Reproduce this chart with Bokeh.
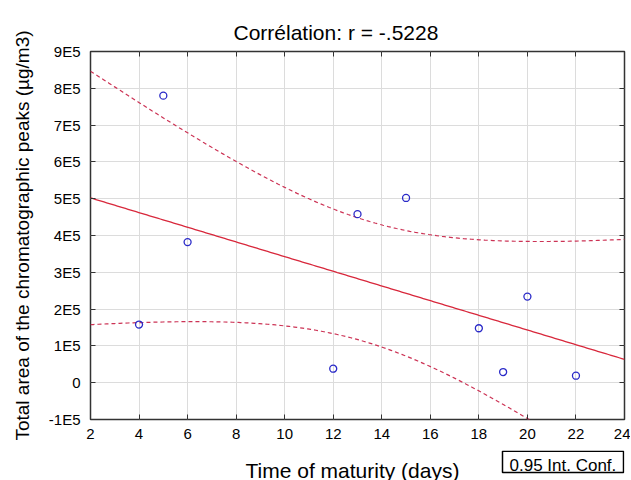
import numpy as np
from bokeh.plotting import figure
from bokeh.layouts import column
from bokeh.models import LinearAxis, FixedTicker, Range1d
from bokeh.core.properties import value
from bokeh.embed import file_html
from bokeh.resources import INLINE

# ---- data ----
days = [4, 5, 6, 12, 13, 15, 18, 19, 20, 22]
area = [1.58e5, 7.80e5, 3.82e5, 0.38e5, 4.58e5, 5.02e5, 1.48e5, 0.29e5, 2.34e5, 0.19e5]

x_ticks = [2, 4, 6, 8, 10, 12, 14, 16, 18, 20, 22, 24]
y_ticks = [-100000, 0, 100000, 200000, 300000, 400000, 500000, 600000, 700000, 800000, 900000]
y_tick_labels = ["-1E5", "0", "1E5", "2E5", "3E5", "4E5", "5E5", "6E5", "7E5", "8E5", "9E5"]

title_text = "Corrélation: r = -.5228"
x_label = "Time of maturity (days)"
y_label = "Total area of the chromatographic peaks (µg/m3)"
legend_text = "0.95 Int. Conf."
T_CRIT = 2.306  # t(0.975, df=8)

# ---- regression and 95% confidence band ----
x = np.array(days, dtype=float)
y = np.array(area, dtype=float)
n = len(x)
xm, ym = x.mean(), y.mean()
sxx = ((x - xm) ** 2).sum()
slope = ((x - xm) * (y - ym)).sum() / sxx
icpt = ym - slope * xm
resid = y - (icpt + slope * x)
s = np.sqrt((resid ** 2).sum() / (n - 2))
xg = np.linspace(x_ticks[0], x_ticks[-1], 200)
yg = icpt + slope * xg
half = T_CRIT * s * np.sqrt(1.0 / n + (xg - xm) ** 2 / sxx)

FONT = "Liberation Sans"

p = figure(
    output_backend="svg", toolbar_location=None,
    frame_width=534, frame_height=368,
    min_border_left=90, min_border_right=6, min_border_top=51, min_border_bottom=31,
    x_range=Range1d(2, 24), y_range=Range1d(-100000, 900000),
    outline_line_color="#333333", outline_line_width=1.5,
)
p.background_fill_color = "white"
p.border_fill_color = "white"

p.title.text = title_text
p.title.text_font = FONT
p.title.text_font_size = "21px"
p.title.text_font_style = "normal"
p.title.text_color = "black"
p.title.align = "left"
p.title.offset = 143
p.title.standoff = 15

# axes
for ax in (p.xaxis[0], p.yaxis[0]):
    ax.axis_line_color = None
    ax.major_tick_in = 5
    ax.major_tick_out = 0
    ax.minor_tick_line_color = None
    ax.major_tick_line_color = "#333333"
    ax.major_label_text_font = FONT
    ax.major_label_text_font_size = "15px"
    ax.major_label_text_color = "black"
    ax.axis_label_text_font = FONT
    ax.axis_label_text_font_style = "normal"
    ax.axis_label_text_font_size = "19px"
    ax.axis_label_text_color = "black"

p.xaxis.ticker = FixedTicker(ticks=x_ticks)
p.yaxis.ticker = FixedTicker(ticks=y_ticks)
p.yaxis.major_label_overrides = {t: l for t, l in zip(y_ticks, y_tick_labels)}
p.xaxis.major_label_standoff = 9
p.yaxis.major_label_standoff = 10
p.yaxis.axis_label = y_label
p.yaxis.axis_label_standoff = 13

# top and right axes with inward ticks, no labels
top = LinearAxis(ticker=FixedTicker(ticks=x_ticks),
                 major_label_overrides={t: "" for t in x_ticks},
                 major_label_standoff=0,
                 axis_line_color=None, major_tick_in=5, major_tick_out=0,
                 minor_tick_line_color=None, major_tick_line_color="#333333")
right = LinearAxis(ticker=FixedTicker(ticks=y_ticks),
                   major_label_overrides={t: "" for t in y_ticks},
                   major_label_standoff=0,
                   axis_line_color=None, major_tick_in=5, major_tick_out=0,
                   minor_tick_line_color=None, major_tick_line_color="#333333")
p.add_layout(top, "above")
p.add_layout(right, "right")

p.xgrid.ticker = FixedTicker(ticks=x_ticks)
p.ygrid.ticker = FixedTicker(ticks=y_ticks)
p.grid.grid_line_color = "#dcdcdc"
p.grid.grid_line_width = 1

# glyphs
p.line(xg, yg, line_color="#d8283c", line_width=1.3)
p.line(xg, yg + half, line_color="#cc3355", line_width=1.2, line_dash="4 3")
p.line(xg, yg - half, line_color="#cc3355", line_width=1.2, line_dash="4 3")
p.scatter(days, area, marker="circle", size=7, fill_color=None,
          line_color="#2a2ac8", line_width=1.3)

# ---- bottom strip (pixel-like coordinates): x axis title and the legend box ----
q = figure(
    output_backend="svg", toolbar_location=None,
    frame_width=534, frame_height=30,
    min_border_left=90, min_border_right=6, min_border_top=0, min_border_bottom=0,
    x_range=Range1d(90, 624), y_range=Range1d(37, 0),
    x_axis_location=None, y_axis_location=None,
    outline_line_color=None,
)
q.grid.visible = False
q.background_fill_color = "white"
q.border_fill_color = "white"

q.text(x=[352], y=[25], text=[x_label], text_align="center",
       text_baseline="alphabetic", text_font=value(FONT),
       text_font_size=value("21px"), text_color="black")
q.quad(left=[502], right=[623], top=[1], bottom=[27], fill_color="white",
       line_color="black", line_width=1.5)
q.text(x=[509], y=[19], text=[legend_text], text_align="left",
       text_baseline="alphabetic", text_font=value(FONT),
       text_font_size=value("17px"), text_color="black")

layout = column(p, q, spacing=0)
open("out.html", "w").write(file_html(layout, INLINE))
